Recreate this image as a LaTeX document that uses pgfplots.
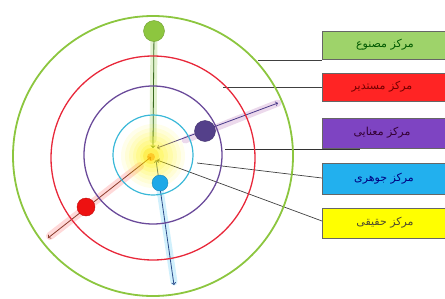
\documentclass[border=0pt]{standalone}
\usepackage{pgfplots}
\pgfplotsset{compat=1.18}
\usepackage{fontspec}
\newfontfamily\arabicfont[Script=Arabic]{DejaVu Sans}
\TeXXeTstate=1
\definecolor{ringG}{HTML}{8CC63F}
\definecolor{ringR}{HTML}{E8283A}
\definecolor{ringP}{HTML}{6A4A9A}
\definecolor{ringC}{HTML}{3AB8D8}
\definecolor{dotG}{HTML}{8DC63F}
\definecolor{dotP}{HTML}{54408A}
\definecolor{dotC}{HTML}{1EA8E8}
\definecolor{dotR}{HTML}{EE1111}
\definecolor{lnG}{HTML}{3A6A20}
\definecolor{lnP}{HTML}{4A3A8A}
\definecolor{lnC}{HTML}{2A4A8A}
\definecolor{lnR}{HTML}{8A3A2A}
\definecolor{boxG}{HTML}{9ED36A}
\definecolor{boxR}{HTML}{FF2424}
\definecolor{boxP}{HTML}{7E44C2}
\definecolor{boxC}{HTML}{22B0EE}
\definecolor{boxY}{HTML}{FFFF00}
\pgfplotsset{glow/.style={only marks,mark=*,color=#1,draw opacity=0,mark options={draw opacity=0,line width=0pt}}}
\begin{document}
\begin{tikzpicture}
\begin{axis}[width=445pt,height=298pt,scale only axis,hide axis,
  xmin=0,xmax=445,ymin=0,ymax=298,y dir=reverse,clip=true]
% invisible frame for the picture's extent
\addplot[draw=none,forget plot] coordinates {(0,0) (445,298)};
% central yellow glow
\addplot[glow=yellow,mark size=32,fill opacity=0.08] coordinates {(153,156)};
\addplot[glow=yellow,mark size=28,fill opacity=0.09] coordinates {(153,156)};
\addplot[glow=yellow,mark size=24,fill opacity=0.1] coordinates {(153,156)};
\addplot[glow=yellow,mark size=20,fill opacity=0.12] coordinates {(153,156)};
\addplot[glow=yellow,mark size=16,fill opacity=0.14] coordinates {(152,156)};
\addplot[glow=yellow,mark size=12,fill opacity=0.18] coordinates {(152,156)};
\addplot[glow=yellow!80!orange,mark size=8,fill opacity=0.3] coordinates {(151,156)};
\addplot[glow=orange!70!yellow,mark size=4,fill opacity=0.5] coordinates {(151,157)};
% line glows
\addplot[line width=7pt,line cap=round,ringG,opacity=0.25] coordinates {(154,40) (153,140)};
\addplot[line width=7pt,line cap=round,violet!50,opacity=0.3] coordinates {(185,140) (278,103)};
\addplot[line width=7pt,line cap=round,cyan!60,opacity=0.3] coordinates {(160,190) (174,282)};
\addplot[line width=8pt,line cap=round,red!60,opacity=0.25] coordinates {(140,166) (50,236)};
% rings
\addplot[only marks,mark=o,mark size=140,mark options={draw=ringG,line width=1.8pt}] coordinates {(153,156)};
\addplot[only marks,mark=o,mark size=102,mark options={draw=ringR,line width=1.3pt}] coordinates {(153,158)};
\addplot[only marks,mark=o,mark size=69,mark options={draw=ringP,line width=1.3pt}] coordinates {(153,155)};
\addplot[only marks,mark=o,mark size=40,mark options={draw=ringC,line width=1.2pt}] coordinates {(153,155)};
% connector lines
\addplot[black!75,line width=0.7pt] coordinates {(258,60) (322,60)};
\addplot[black!75,line width=0.7pt] coordinates {(223,87) (322,87)};
\addplot[black!80,line width=1pt] coordinates {(225,149) (360,149)};
\addplot[black!75,line width=0.7pt] coordinates {(197,163) (322,178)};
\addplot[black!75,line width=0.7pt,<-] coordinates {(157,160) (322,221)};
% arrows
\addplot[lnG,line width=0.8pt,->] coordinates {(154,32) (153,148)};
\addplot[lnP,line width=0.8pt,<->] coordinates {(157,148) (278,103)};
\addplot[lnC,line width=0.8pt,<->] coordinates {(156,160) (174,285)};
\addplot[lnR,line width=0.8pt,<->] coordinates {(151,157) (48,238)};
% dots
\addplot[only marks,mark=*,mark size=10.5,mark options={draw=ringG!80!black,fill=dotG}] coordinates {(154,31)};
\addplot[only marks,mark=*,mark size=10.5,mark options={draw=dotP!80!black,fill=dotP}] coordinates {(205,131)};
\addplot[only marks,mark=*,mark size=8,mark options={draw=dotC!80!black,fill=dotC}] coordinates {(160,183)};
\addplot[only marks,mark=*,mark size=9,mark options={draw=dotR!80!black,fill=dotR}] coordinates {(86,207)};
% boxes
\addplot[fill=boxG,draw=black!60,line width=0.6pt] coordinates {(322,31) (450,31) (450,59) (322,59)} -- cycle;
\addplot[fill=boxR,draw=black!60,line width=0.6pt] coordinates {(322,73) (450,73) (450,101) (322,101)} -- cycle;
\addplot[fill=boxP,draw=black!60,line width=0.6pt] coordinates {(322,118) (450,118) (450,148) (322,148)} -- cycle;
\addplot[fill=boxC,draw=black!60,line width=0.6pt] coordinates {(322,163) (450,163) (450,194) (322,194)} -- cycle;
\addplot[fill=boxY,draw=black!60,line width=0.6pt] coordinates {(322,208) (450,208) (450,238) (322,238)} -- cycle;
\node[text=green!35!black] at (axis cs:385,45) {\arabicfont\fontsize{11}{13}\selectfont\beginR مرکز مصنوع\endR};
\node[text=red!45!black] at (axis cs:382,87) {\arabicfont\fontsize{11}{13}\selectfont\beginR مرکز مستدیر\endR};
\node[text=violet!40!black] at (axis cs:382,133) {\arabicfont\fontsize{11}{13}\selectfont\beginR مرکز معنایی\endR};
\node[text=blue!50!black] at (axis cs:384,179) {\arabicfont\fontsize{11}{13}\selectfont\beginR مرکز جوهری\endR};
\node[text=olive!40!black] at (axis cs:385,223) {\arabicfont\fontsize{11}{13}\selectfont\beginR مرکز حقیقی\endR};
\end{axis}
\end{tikzpicture}
\end{document}
